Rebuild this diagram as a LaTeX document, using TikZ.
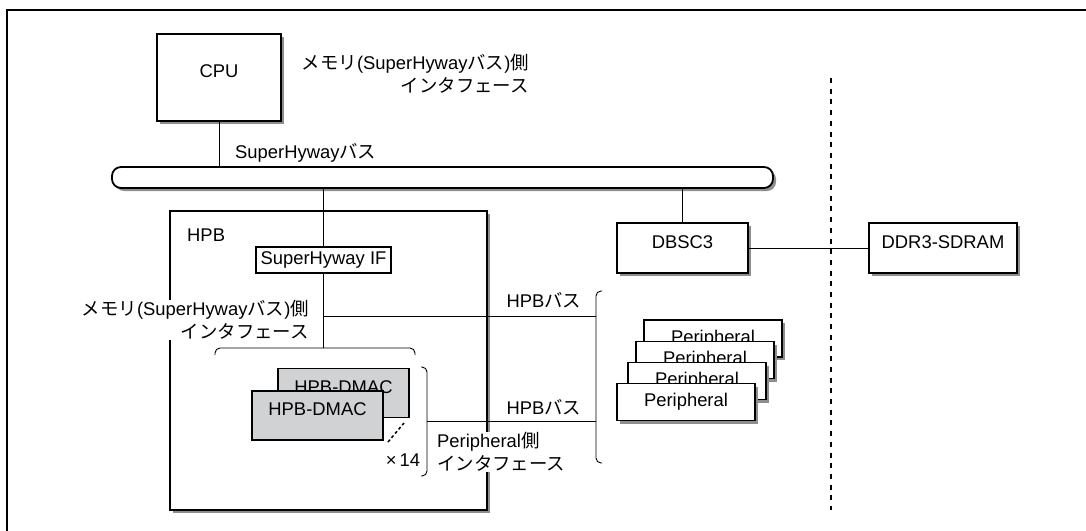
\documentclass[tikz,border=0pt]{standalone}
\usepackage{fontspec}
\setmainfont{Liberation Sans}
\newfontfamily\jpfont{Noto Sans CJK JP}
\newcommand{\jp}[1]{{\jpfont #1}}
\usetikzlibrary{shadows}
\usepackage{xcolor}
\definecolor{dmacgray}{HTML}{D1D2D4}
\definecolor{shadowgray}{HTML}{8E8E8E}

\begin{document}
\begin{tikzpicture}[
  x=1pt,
  y=-1pt,
  font=\fontsize{18.4}{23}\selectfont,
  block/.style={draw, line width=1.8pt, fill=white, inner sep=0pt,
    drop shadow={shadow xshift=3pt, shadow yshift=-3pt, opacity=1, fill=shadowgray}},
  raised/.style={text height=13pt, text depth=13pt},
  busbar/.style={block, rounded corners=9pt, minimum width=661pt, minimum height=21pt},
  ifblock/.style={draw, line width=1.5pt, fill=white, inner sep=1pt, minimum width=135pt, minimum height=26pt},
  dmacblock/.style={draw, line width=1.8pt, fill=dmacgray, inner sep=0pt, raised, minimum width=131pt, minimum height=49pt},
  perblock/.style={block, minimum width=138pt, minimum height=37pt},
  lbl/.style={inner sep=0pt},
  wire/.style={line width=1pt},
  bracket/.style={line width=0.9pt, rounded corners=5pt},
  sepline/.style={line width=2.4pt, dash pattern=on 5pt off 5.7pt},
  frameline/.style={line width=2pt}
]
\useasboundingbox (0,0) rectangle (1086,530);
\draw[frameline] (7,545) -- (7,10) -- (1100,10);
\draw[sepline] (831,78) -- (831,510);

\node[busbar] (bus) at (442.5,177.5) {};
\node[block, raised, minimum width=124pt, minimum height=87pt] (cpu) at (219,77.5) {CPU};
\node[lbl, align=right, anchor=east] (cpumem) at (529,74) {\jp{メモリ}(SuperHyway\jp{バス})\jp{側}\\\jp{インタフェース}};
\node[lbl, anchor=west] (buslbl) at (235,153) {SuperHyway\jp{バス}};

\node[block, minimum width=317pt, minimum height=299pt] (hpb) at (328.5,360.5) {};
\node[lbl, anchor=west] (hpbname) at (187,235) {HPB};
\node[ifblock] (ifbox) at (323.5,260) {SuperHyway IF};
\node[lbl, align=right, anchor=east, fill=white] (hpbmem) at (309,320) {\jp{メモリ}(SuperHyway\jp{バス})\jp{側}\\\jp{インタフェース}};

\node[dmacblock] (dmacB) at (343.5,393) {HPB-DMAC};
\node[dmacblock] (dmacA) at (317.5,415.5) {HPB-DMAC};
\draw[line width=1.5pt, dash pattern=on 3pt off 2.5pt] (388,442) -- (404,423);
\node[lbl] (dmaccount) at (403,460) {×\,14};

\draw[bracket] (215,355) -- (215,348) -- (415,348) -- (415,355);
\draw[bracket] (421,367) -- (427,367) -- (427,476) -- (421,476);
\draw[bracket] (602,291) -- (596,291) -- (596,463) -- (602,463);
\coordinate (bracetop) at (322,348);
\coordinate (dmacout) at (427,421);
\coordinate (perup) at (596,316);
\coordinate (perdn) at (596,421);

\node[lbl, align=left, anchor=west, fill=white] (perif) at (437,452) {Peripheral\jp{側}\\\jp{インタフェース}};
\node[lbl] (hpbbusA) at (544,300) {HPB\jp{バス}};
\node[lbl] (hpbbusB) at (544,407) {HPB\jp{バス}};

\foreach \n/\px/\py in {1/713/338.5, 2/705/360, 3/697/381, 4/686/402}
  \node[perblock] (per\n) at (\px,\py) {Peripheral};

\node[block, raised, minimum width=131pt, minimum height=50pt] (dbsc) at (682.5,248) {DBSC3};
\node[block, raised, minimum width=148pt, minimum height=50pt] (ddr) at (943,248) {DDR3-SDRAM};

\draw[wire] (cpu) -- (cpu |- bus.north);
\draw[wire] (bus.south -| ifbox) -- (ifbox);
\draw[wire] (ifbox.south) -- (ifbox.south |- bracetop);
\draw[wire] (ifbox.south |- perup) -- (perup);
\draw[wire] (dmacout) -- (perdn);
\draw[wire] (bus.south -| dbsc) -- (dbsc);
\draw[wire] (dbsc) -- (ddr);
\end{tikzpicture}
\end{document}
